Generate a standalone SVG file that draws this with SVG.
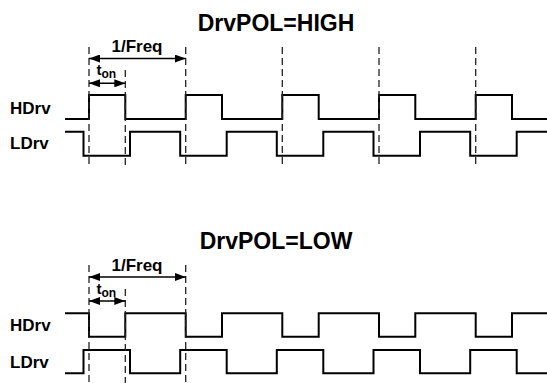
<svg xmlns="http://www.w3.org/2000/svg" width="547" height="383" viewBox="0 0 547 383">
<style>
text{font-family:"Liberation Sans",Arial,sans-serif;font-weight:bold;fill:#000}
.title{font-size:23px;text-anchor:middle}
.lbl{font-size:17px}
.dim{font-size:17px;text-anchor:middle}
.t{font-size:15px}
.sub{font-size:12px}
.sig{fill:none;stroke:#000;stroke-width:2;stroke-linejoin:miter}
.dash{stroke:#222;stroke-width:1.3;stroke-dasharray:7,4;fill:none}
.arr{stroke:#000;stroke-width:1.5;fill:none;marker-start:url(#ah);marker-end:url(#ah)}
</style>
<defs>
<marker id="ah" viewBox="0 0 11 8" refX="11" refY="4" markerWidth="11" markerHeight="8" markerUnits="userSpaceOnUse" orient="auto-start-reverse">
<path d="M0,0 L11,4 L0,8 z" fill="#000"/>
</marker>
</defs>
<rect width="547" height="383" fill="#fff"/>

<g id="top">
<text class="title" x="276" y="30.5">DrvPOL=HIGH</text>
<g id="top-hdrv">
<text class="lbl" x="10" y="113.5">HDrv</text>
<path class="sig" d="M65,119 H89 V95 H125.3 V119 H185.7 V95 H222 V119 H282.3 V95 H318.7 V119 H379 V95 H415.3 V119 H475.7 V95 H512 V119 H547"/>
</g>
<g id="top-ldrv">
<text class="lbl" x="10" y="149">LDrv</text>
<path class="sig" d="M65,131.7 H83.5 V155.7 H130 V131.7 H180.2 V155.7 H226.7 V131.7 H276.8 V155.7 H323.3 V131.7 H373.5 V155.7 H420 V131.7 H470.2 V155.7 H516.7 V131.7 H547"/>
</g>
<g id="top-freq">
<text class="dim" x="137" y="51.5">1/Freq</text>
</g>
<g id="top-ton">
<text class="t" x="96.5" y="75">t<tspan class="sub" dy="2.5">on</tspan></text>
</g>
</g>

<g id="bottom">
<text class="title" x="276" y="248.7">DrvPOL=LOW</text>
<g id="bot-hdrv">
<text class="lbl" x="10" y="330.5">HDrv</text>
<path class="sig" d="M65,313.3 H89 V336.7 H125.3 V313.3 H185.7 V336.7 H222 V313.3 H282.3 V336.7 H318.7 V313.3 H379 V336.7 H415.3 V313.3 H475.7 V336.7 H512 V313.3 H547"/>
</g>
<g id="bot-ldrv">
<text class="lbl" x="10" y="367.5">LDrv</text>
<path class="sig" d="M65,373.3 H83.5 V350 H130 V373.3 H180.2 V350 H226.7 V373.3 H276.8 V350 H323.3 V373.3 H373.5 V350 H420 V373.3 H470.2 V350 H516.7 V373.3 H547"/>
</g>
<g id="bot-freq">
<text class="dim" x="137" y="270.5">1/Freq</text>
</g>
<g id="bot-ton">
<text class="t" x="96.5" y="294">t<tspan class="sub" dy="2.5">on</tspan></text>
</g>
</g>

<g id="connectors">
<line class="dash" x1="89" y1="47" x2="89" y2="168"/>
<line class="dash" x1="125.3" y1="70" x2="125.3" y2="168"/>
<line class="dash" x1="185.7" y1="47" x2="185.7" y2="168"/>
<line class="dash" x1="282.3" y1="47" x2="282.3" y2="168"/>
<line class="dash" x1="379" y1="47" x2="379" y2="168"/>
<line class="dash" x1="475.7" y1="47" x2="475.7" y2="168"/>
<line class="arr" x1="89" y1="58.5" x2="185.7" y2="58.5"/>
<line class="arr" x1="89" y1="83.3" x2="125.3" y2="83.3"/>

<line class="dash" x1="89" y1="265" x2="89" y2="383"/>
<line class="dash" x1="125.3" y1="289" x2="125.3" y2="383"/>
<line class="dash" x1="185.7" y1="265" x2="185.7" y2="383"/>
<line class="arr" x1="89" y1="277" x2="185.7" y2="277"/>
<line class="arr" x1="89" y1="301" x2="125.3" y2="301"/>
</g>
</svg>
